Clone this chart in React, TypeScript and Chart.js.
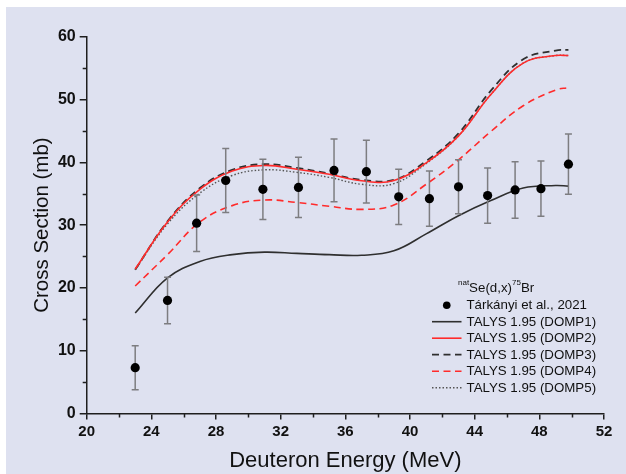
import { useEffect, useRef } from "react";
import { Chart, registerables } from "chart.js";

Chart.register(...registerables);

// Measured points: deuteron energy (MeV), cross section (mb), uncertainty (mb)
const measuredEnergy = [23.0, 25.0, 26.8, 28.6, 30.9, 33.1, 35.3, 37.3, 39.3, 41.2, 43.0, 44.8, 46.5, 48.1, 49.8];
const measuredXs = [7.3, 18.0, 30.3, 37.1, 35.7, 36.0, 38.7, 38.5, 34.5, 34.2, 36.1, 34.7, 35.6, 35.8, 39.7];
const measuredErr = [3.5, 3.7, 4.5, 5.1, 4.8, 4.8, 5.0, 5.0, 4.4, 4.4, 4.3, 4.4, 4.5, 4.4, 4.8];

// TALYS 1.95 excitation functions on a common energy grid
const talysEnergy = [23, 25, 27, 29, 31, 33, 35, 37, 39, 41, 43, 45, 47, 49, 49.8];
const domp1 = [16.0, 21.6, 24.2, 25.3, 25.7, 25.5, 25.3, 25.2, 25.9, 28.6, 31.5, 33.9, 35.9, 36.3, 36.2];
const domp2 = [23.0, 30.5, 35.7, 38.6, 39.5, 38.9, 38.1, 37.05, 37.1, 39.9, 44.2, 50.8, 55.8, 57.0, 57.0];
const domp3 = [22.9, 30.6, 35.9, 38.8, 39.7, 39.1, 38.2, 37.2, 37.2, 40.2, 44.6, 51.4, 56.4, 57.8, 57.9];
const domp4 = [20.3, 25.3, 30.5, 33.1, 34.0, 33.6, 33.0, 32.5, 33.2, 36.5, 40.4, 44.9, 49.0, 51.5, 51.9];
const domp5 = [22.9, 30.2, 35.1, 37.9, 38.8, 38.4, 37.6, 36.5, 36.6, 39.8, 44.2, 50.8, 55.8, 57.0, 57.0];

const seriesLabels = [
  "Tárkányi et al., 2021",
  "TALYS 1.95 (DOMP1)",
  "TALYS 1.95 (DOMP2)",
  "TALYS 1.95 (DOMP3)",
  "TALYS 1.95 (DOMP4)",
  "TALYS 1.95 (DOMP5)",
];

// Reaction label, drawn with superscripts
const reactionTitle = [
  { text: "nat", sup: true },
  { text: "Se(d,x)", sup: false },
  { text: "75", sup: true },
  { text: "Br", sup: false },
];

const xTitle = "Deuteron Energy (MeV)";
const yTitle = "Cross Section (mb)";
const xMin = 20;
const xMax = 52;
const xStep = 4;
const yMin = 0;
const yMax = 60;
const yStep = 10;

const FONT = "Arial, 'Liberation Sans', Helvetica, sans-serif";
const AXIS = "#1e1e1e";
const RED = "#ff2b2b";
const DARK = "#2f2f2f";

const toPoints = (xs: number[], ys: number[]) => xs.map((x, i) => ({ x, y: ys[i] }));

// Error bars for the measured set, drawn right before its markers
const errorBarPlugin = {
  id: "errorBars",
  beforeDatasetDraw(chart: any, args: any) {
    if (args.index !== 0) return;
    const { ctx, scales } = chart;
    ctx.save();
    ctx.strokeStyle = "#7d7d80";
    ctx.lineWidth = 1.5;
    measuredEnergy.forEach((e, i) => {
      const px = scales.x.getPixelForValue(e);
      const top = scales.y.getPixelForValue(measuredXs[i] + measuredErr[i]);
      const bot = scales.y.getPixelForValue(measuredXs[i] - measuredErr[i]);
      ctx.beginPath();
      ctx.moveTo(px, top);
      ctx.lineTo(px, bot);
      ctx.moveTo(px - 3.5, top);
      ctx.lineTo(px + 3.5, top);
      ctx.moveTo(px - 3.5, bot);
      ctx.lineTo(px + 3.5, bot);
      ctx.stroke();
    });
    ctx.restore();
  },
};

// Short minor ticks halfway between the labelled ones
const minorTickPlugin = {
  id: "minorTicks",
  afterDraw(chart: any) {
    const { ctx, scales, chartArea } = chart;
    ctx.save();
    ctx.strokeStyle = AXIS;
    ctx.lineWidth = 1.5;
    ctx.beginPath();
    for (let v = yMin + yStep / 2; v < yMax; v += yStep) {
      const py = Math.round(scales.y.getPixelForValue(v)) + 0.5;
      ctx.moveTo(chartArea.left - 4, py);
      ctx.lineTo(chartArea.left, py);
    }
    for (let v = xMin + xStep / 2; v < xMax; v += xStep) {
      const px = Math.round(scales.x.getPixelForValue(v)) + 0.5;
      ctx.moveTo(px, chartArea.bottom);
      ctx.lineTo(px, chartArea.bottom + 4);
    }
    ctx.stroke();
    ctx.restore();
  },
};

// Legend box in the lower right of the plot area
const legendPlugin = {
  id: "innerLegend",
  afterDraw(chart: any) {
    const { ctx, chartArea } = chart;
    const textX = chartArea.right - 137.5;
    const sampleL = textX - 34.5;
    const sampleR = textX - 5;
    const firstRow = chartArea.top + 268.5;
    const rowH = 16.5;
    ctx.save();
    ctx.fillStyle = "#111";
    ctx.textBaseline = "middle";

    // title with superscripts
    let tx = textX - 8.5;
    const ty = firstRow - 17;
    reactionTitle.forEach((part) => {
      ctx.font = part.sup ? `8px ${FONT}` : `13.3px ${FONT}`;
      ctx.fillText(part.text, tx, part.sup ? ty - 5 : ty);
      tx += ctx.measureText(part.text).width;
    });

    ctx.font = `13.3px ${FONT}`;
    chart.data.datasets.forEach((ds: any, i: number) => {
      const cy = firstRow + i * rowH;
      if (ds.showLine === false) {
        ctx.beginPath();
        ctx.fillStyle = ds.backgroundColor;
        ctx.arc((sampleL + sampleR) / 2, cy, 3.8, 0, Math.PI * 2);
        ctx.fill();
      } else {
        ctx.beginPath();
        ctx.strokeStyle = ds.borderColor;
        ctx.lineWidth = ds.borderWidth;
        ctx.setLineDash(ds.borderDash || []);
        ctx.moveTo(sampleL, cy);
        ctx.lineTo(sampleR, cy);
        ctx.stroke();
        ctx.setLineDash([]);
      }
      ctx.fillStyle = "#111";
      ctx.fillText(ds.label, textX, cy + 0.5);
    });
    ctx.restore();
  },
};

export default function App() {
  const canvasRef = useRef<HTMLCanvasElement>(null);

  useEffect(() => {
    const lineDefaults = {
      type: "line" as const,
      showLine: true,
      pointRadius: 0,
      fill: false,
      tension: 0.4,
      borderWidth: 1.6,
    };

    const chart = new Chart(canvasRef.current!, {
      type: "line",
      data: {
        datasets: [
          {
            type: "scatter",
            label: seriesLabels[0],
            data: toPoints(measuredEnergy, measuredXs),
            showLine: false,
            pointRadius: 4.6,
            pointBackgroundColor: "#000",
            pointBorderWidth: 0,
            backgroundColor: "#000",
            borderColor: "#000",
            order: 0,
          },
          {
            ...lineDefaults,
            label: seriesLabels[1],
            data: toPoints(talysEnergy, domp1),
            borderColor: DARK,
            borderDash: [],
            order: 5,
          },
          {
            ...lineDefaults,
            label: seriesLabels[2],
            data: toPoints(talysEnergy, domp2),
            borderColor: RED,
            borderDash: [],
            order: 2,
          },
          {
            ...lineDefaults,
            label: seriesLabels[3],
            data: toPoints(talysEnergy, domp3),
            borderColor: DARK,
            borderDash: [7, 4.5],
            borderWidth: 1.8,
            order: 4,
          },
          {
            ...lineDefaults,
            label: seriesLabels[4],
            data: toPoints(talysEnergy, domp4),
            borderColor: RED,
            borderDash: [7, 4.5],
            order: 1,
          },
          {
            ...lineDefaults,
            label: seriesLabels[5],
            data: toPoints(talysEnergy, domp5),
            borderColor: "#555",
            borderDash: [1.5, 2],
            borderWidth: 1.4,
            order: 3,
          },
        ] as any,
      },
      options: {
        responsive: false,
        animation: false,
        devicePixelRatio: 1,
        layout: { padding: { left: 0, right: 22, top: 29.7, bottom: 0.5 } },
        plugins: {
          legend: { display: false },
          tooltip: { enabled: false },
        },
        scales: {
          x: {
            type: "linear",
            min: xMin,
            max: xMax,
            afterFit: (s: any) => {
              s.height = 60;
            },
            ticks: {
              stepSize: xStep,
              autoSkip: false,
              maxRotation: 0,
              padding: 3,
              color: "#111",
              font: { family: FONT, size: 15, weight: "bold" },
            },
            grid: {
              drawOnChartArea: false,
              drawTicks: true,
              tickLength: 6,
              color: AXIS,
              lineWidth: 1.5,
            },
            border: { display: true, color: AXIS, width: 1.5 },
            title: {
              display: true,
              text: xTitle,
              color: "#111",
              font: { family: FONT, size: 22, lineHeight: 1.14 },
              padding: { top: 0, bottom: 0 },
            },
          },
          y: {
            type: "linear",
            min: yMin,
            max: yMax,
            afterFit: (s: any) => {
              s.width = 80.7;
            },
            ticks: {
              stepSize: yStep,
              padding: 4,
              color: "#111",
              font: { family: FONT, size: 16, weight: "bold" },
            },
            grid: {
              drawOnChartArea: false,
              drawTicks: true,
              tickLength: 7,
              color: AXIS,
              lineWidth: 1.5,
            },
            border: { display: true, color: AXIS, width: 1.5 },
            title: {
              display: true,
              text: yTitle,
              color: "#111",
              font: { family: FONT, size: 20.5, lineHeight: 1.2 },
              padding: { top: 24, bottom: 0 },
            },
          },
        },
      } as any,
      plugins: [errorBarPlugin, minorTickPlugin, legendPlugin],
    });

    return () => chart.destroy();
  }, []);

  return (
    <div
      style={{
        position: "absolute",
        left: 6,
        top: 7,
        width: 620,
        height: 467,
        background: "#dee1f0",
      }}
    >
      <canvas
        ref={canvasRef}
        width={620}
        height={467}
        style={{ display: "block", width: 620, height: 467 }}
      />
    </div>
  );
}
